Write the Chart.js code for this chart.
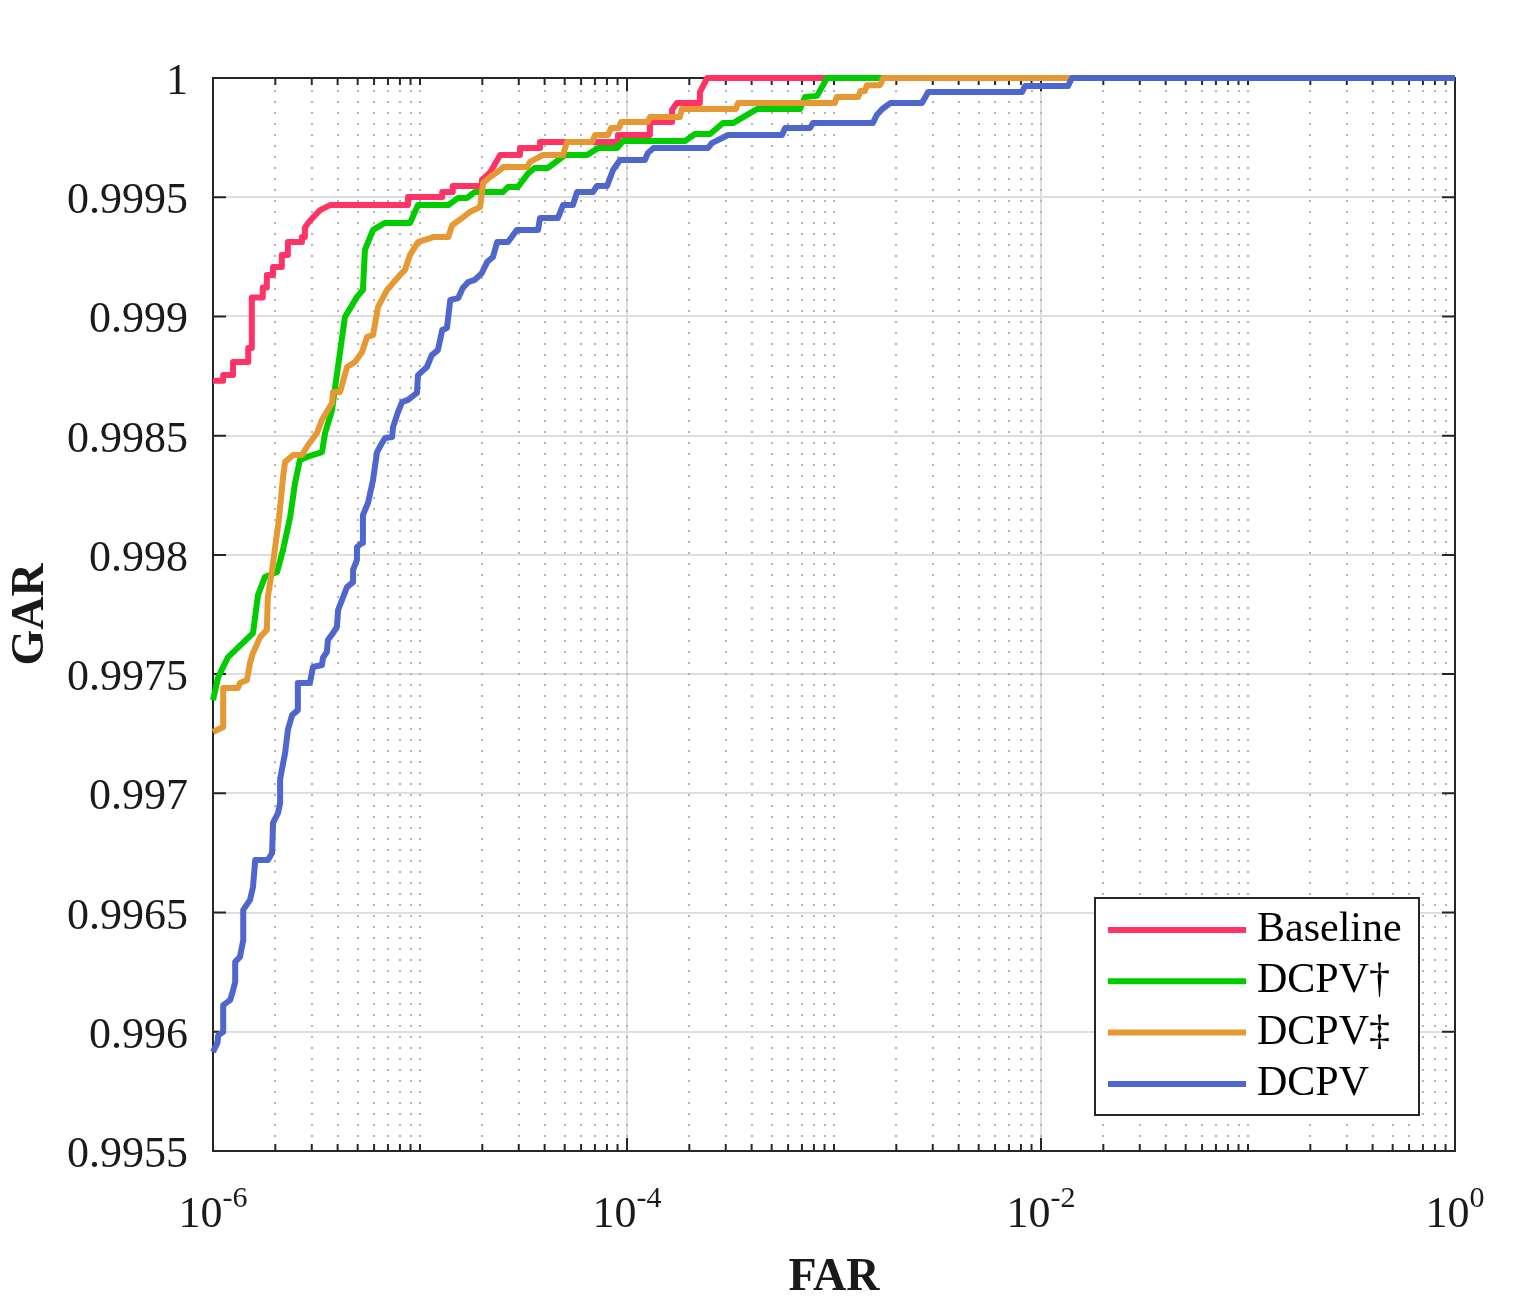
<!DOCTYPE html>
<html>
<head>
<meta charset="utf-8">
<script src="https://cdn.jsdelivr.net/npm/chart.js@4.4.1/dist/chart.umd.min.js"></script>
<style>
  html, body { margin: 0; padding: 0; background: #fff; }
  #wrap { width: 1515px; height: 1308px; }
</style>
</head>
<body>
<div id="wrap"><canvas id="roc" width="1515" height="1308"></canvas></div>
<script>
// ROC curves (FAR on log axis, GAR linear)
const baseFar = [1e-6, 1.12e-6, 1.12e-6, 1.25e-6, 1.25e-6, 1.48e-6, 1.48e-6, 1.54e-6, 1.54e-6, 1.74e-6, 1.74e-6, 1.82e-6, 1.82e-6, 1.95e-6, 1.95e-6, 2.15e-6, 2.15e-6, 2.30e-6, 2.30e-6, 2.69e-6, 2.69e-6, 2.78e-6, 2.78e-6, 2.88e-6, 3.04e-6, 3.29e-6, 3.68e-6, 8.75e-6, 8.75e-6, 1.28e-5, 1.28e-5, 1.44e-5, 1.44e-5, 1.99e-5, 1.99e-5, 2.18e-5, 2.44e-5, 3.04e-5, 3.04e-5, 3.80e-5, 3.80e-5, 9.05e-5, 9.05e-5, 1.29e-4, 1.29e-4, 1.65e-4, 1.65e-4, 1.74e-4, 2.25e-4, 2.25e-4, 2.44e-4, 1];
const baseGar = [0.99873, 0.99873, 0.998754, 0.998754, 0.998809, 0.998809, 0.998868, 0.998868, 0.999079, 0.999079, 0.999121, 0.999121, 0.999174, 0.999174, 0.999207, 0.999207, 0.999258, 0.999258, 0.999312, 0.999312, 0.999333, 0.999333, 0.999371, 0.999392, 0.999415, 0.999446, 0.999467, 0.999467, 0.999501, 0.999501, 0.999522, 0.999522, 0.999547, 0.999547, 0.999572, 0.999604, 0.999677, 0.999677, 0.999706, 0.999706, 0.999732, 0.999732, 0.999761, 0.999761, 0.999815, 0.999815, 0.999866, 0.999895, 0.999895, 0.999941, 1, 1];

const dagFar = [1e-6, 1.06e-6, 1.18e-6, 1.56e-6, 1.65e-6, 1.78e-6, 2.04e-6, 2.18e-6, 2.36e-6, 2.49e-6, 2.63e-6, 2.85e-6, 3.36e-6, 3.48e-6, 3.76e-6, 3.89e-6, 4.34e-6, 4.96e-6, 5.30e-6, 5.42e-6, 5.93e-6, 6.78e-6, 8.95e-6, 9.78e-6, 1.37e-5, 1.53e-5, 1.69e-5, 1.84e-5, 2.52e-5, 2.66e-5, 2.97e-5, 3.33e-5, 3.59e-5, 4.15e-5, 5.02e-5, 6.41e-5, 7.24e-5, 8.95e-5, 9.57e-5, 1.91e-4, 2.13e-4, 2.52e-4, 2.91e-4, 3.25e-4, 3.93e-4, 4.25e-4, 6.85e-4, 7.24e-4, 8.28e-4, 9.25e-4, 1];
const dagGar = [0.997391, 0.997488, 0.99757, 0.997672, 0.997832, 0.997907, 0.997928, 0.998021, 0.998159, 0.998301, 0.998398, 0.998411, 0.998431, 0.998511, 0.998608, 0.998704, 0.998998, 0.999082, 0.999111, 0.999279, 0.999363, 0.999392, 0.999392, 0.999467, 0.999467, 0.999497, 0.999497, 0.999522, 0.999522, 0.999543, 0.999543, 0.9996, 0.999623, 0.999623, 0.999677, 0.999677, 0.999706, 0.999706, 0.999736, 0.999736, 0.999765, 0.999765, 0.999811, 0.999811, 0.999853, 0.99987, 0.99987, 0.99992, 0.999925, 1, 1];

const ddagFar = [1e-6, 1.12e-6, 1.12e-6, 1.32e-6, 1.35e-6, 1.46e-6, 1.51e-6, 1.56e-6, 1.60e-6, 1.69e-6, 1.82e-6, 1.84e-6, 1.93e-6, 2.04e-6, 2.08e-6, 2.18e-6, 2.23e-6, 2.44e-6, 2.69e-6, 2.88e-6, 3.18e-6, 3.36e-6, 3.76e-6, 3.80e-6, 4.11e-6, 4.44e-6, 4.85e-6, 5.25e-6, 5.55e-6, 5.93e-6, 6.27e-6, 6.93e-6, 7.41e-6, 8.01e-6, 8.46e-6, 8.95e-6, 9.78e-6, 1.16e-5, 1.37e-5, 1.43e-5, 1.60e-5, 1.74e-5, 1.95e-5, 2.02e-5, 2.18e-5, 2.44e-5, 2.52e-5, 3.29e-5, 3.40e-5, 3.93e-5, 4.91e-5, 5.13e-5, 6.78e-5, 7.01e-5, 8.10e-5, 8.37e-5, 9.15e-5, 9.36e-5, 1.26e-4, 1.29e-4, 1.80e-4, 1.84e-4, 3.36e-4, 3.44e-4, 1.01e-3, 1.03e-3, 1.31e-3, 1.34e-3, 1.41e-3, 1.44e-3, 1.67e-3, 1.73e-3, 1];
const ddagGar = [0.997257, 0.997278, 0.997442, 0.997442, 0.997463, 0.997475, 0.997547, 0.997589, 0.997609, 0.997656, 0.997685, 0.997823, 0.997937, 0.998092, 0.998146, 0.998327, 0.99839, 0.998419, 0.998419, 0.998461, 0.998511, 0.998566, 0.998637, 0.998683, 0.998683, 0.998788, 0.998809, 0.998851, 0.998914, 0.998922, 0.99904, 0.999111, 0.99914, 0.999174, 0.999195, 0.999258, 0.999312, 0.999333, 0.999333, 0.999383, 0.999413, 0.999438, 0.999459, 0.99956, 0.999585, 0.999614, 0.999627, 0.999627, 0.999648, 0.999677, 0.999677, 0.999732, 0.999732, 0.999761, 0.999761, 0.99979, 0.99979, 0.999815, 0.999815, 0.999836, 0.999836, 0.99987, 0.99987, 0.999895, 0.999895, 0.99992, 0.99992, 0.999945, 0.999945, 0.99997, 0.99997, 1, 1];

const dcpvFar = [1e-6, 1.05e-6, 1.06e-6, 1.12e-6, 1.12e-6, 1.21e-6, 1.24e-6, 1.28e-6, 1.28e-6, 1.35e-6, 1.40e-6, 1.40e-6, 1.51e-6, 1.56e-6, 1.60e-6, 1.84e-6, 1.93e-6, 1.95e-6, 2.06e-6, 2.11e-6, 2.11e-6, 2.23e-6, 2.30e-6, 2.41e-6, 2.57e-6, 2.57e-6, 2.94e-6, 3.04e-6, 3.36e-6, 3.40e-6, 3.55e-6, 3.59e-6, 3.80e-6, 3.97e-6, 4.02e-6, 4.44e-6, 4.75e-6, 4.75e-6, 4.96e-6, 4.96e-6, 5.25e-6, 5.30e-6, 5.61e-6, 5.93e-6, 6.20e-6, 6.55e-6, 6.78e-6, 7.33e-6, 7.41e-6, 7.83e-6, 8.19e-6, 8.75e-6, 9.67e-6, 9.78e-6, 1.08e-5, 1.14e-5, 1.22e-5, 1.28e-5, 1.35e-5, 1.40e-5, 1.53e-5, 1.61e-5, 1.71e-5, 1.84e-5, 1.99e-5, 2.11e-5, 2.25e-5, 2.36e-5, 2.66e-5, 2.94e-5, 3.72e-5, 3.80e-5, 4.64e-5, 4.91e-5, 5.48e-5, 5.74e-5, 6.85e-5, 7.16e-5, 8.01e-5, 8.56e-5, 9.25e-5, 1.22e-4, 1.26e-4, 1.34e-4, 2.46e-4, 2.57e-4, 3.08e-4, 5.61e-4, 5.80e-4, 7.66e-4, 7.92e-4, 1.54e-3, 1.61e-3, 1.71e-3, 1.87e-3, 2.66e-3, 2.85e-3, 8.10e-3, 8.37e-3, 1.35e-2, 1.41e-2, 1];
const dcpvGar = [0.995915, 0.995953, 0.995986, 0.995999, 0.996112, 0.996133, 0.996163, 0.996209, 0.996293, 0.996314, 0.996385, 0.996511, 0.996553, 0.996607, 0.99672, 0.99672, 0.99675, 0.996876, 0.996917, 0.996959, 0.99706, 0.997169, 0.997266, 0.997328, 0.997349, 0.997463, 0.997463, 0.99753, 0.997538, 0.99757, 0.997593, 0.997643, 0.997672, 0.997698, 0.997769, 0.997865, 0.997886, 0.997937, 0.997979, 0.998033, 0.99805, 0.998167, 0.998218, 0.998314, 0.998431, 0.998469, 0.99849, 0.998494, 0.998536, 0.998599, 0.998641, 0.99865, 0.998679, 0.998754, 0.998788, 0.998838, 0.998859, 0.998943, 0.998952, 0.999069, 0.999077, 0.999119, 0.999144, 0.999153, 0.999182, 0.999228, 0.999249, 0.999312, 0.999312, 0.999363, 0.999363, 0.999413, 0.999413, 0.999467, 0.999467, 0.999522, 0.999522, 0.999547, 0.999547, 0.999614, 0.999656, 0.999656, 0.999685, 0.999706, 0.999706, 0.999727, 0.999761, 0.999761, 0.99979, 0.99979, 0.999811, 0.999811, 0.999845, 0.99987, 0.999895, 0.999895, 0.999941, 0.999941, 0.999966, 0.999966, 1, 1];

const seriesNames = ['Baseline', 'DCPV\u2020', 'DCPV\u2021', 'DCPV'];
const seriesColors = ['#ff3366', '#00cc00', '#e69933', '#4f66cc'];

const yTicks = [0.9955, 0.996, 0.9965, 0.997, 0.9975, 0.998, 0.9985, 0.999, 0.9995, 1];
const yTickLabels = ['0.9955', '0.996', '0.9965', '0.997', '0.9975', '0.998', '0.9985', '0.999', '0.9995', '1'];
const xTicks = [1e-6, 1e-4, 1e-2, 1];
const xTickExps = ['-6', '-4', '-2', '0'];

const SERIF = '"Liberation Serif", "DejaVu Serif", serif';
const AXIS = '#262626';

function pts(far, gar) {
    return far.map(function (f, i) { return { x: f, y: gar[i] }; });
}

// MATLAB-like frame: dotted minor grid, box, inner ticks, labels, legend
const matlabFrame = {
    id: 'matlabFrame',
    beforeDatasetsDraw(chart) {
        const { ctx, chartArea: a, scales: { x, y } } = chart;
        ctx.save();
        // minor dotted grid on x
        ctx.strokeStyle = '#b4b4b4';
        ctx.lineWidth = 2;
        ctx.setLineDash([2, 9]);
        for (let e = -6; e < 0; e++) {
            for (let k = 1; k <= 9; k++) {
                if (e === -6 && k === 1) continue;
                const px = Math.round(x.getPixelForValue(k * Math.pow(10, e)));
                ctx.beginPath();
                ctx.moveTo(px, a.top + 12);
                ctx.lineTo(px, a.bottom - 8);
                ctx.stroke();
            }
        }
        ctx.setLineDash([]);
        // ticks
        ctx.strokeStyle = AXIS;
        ctx.lineWidth = 2;
        for (let e = -6; e <= 0; e++) {
            for (let k = 1; k <= 9; k++) {
                const v = k * Math.pow(10, e);
                if (v > 1.0001) break;
                const px = x.getPixelForValue(v);
                const major = xTicks.some(function (t) { return Math.abs(t - v) / t < 1e-6; });
                const len = major ? 13 : 7;
                ctx.beginPath();
                ctx.moveTo(px, a.bottom); ctx.lineTo(px, a.bottom - len);
                ctx.moveTo(px, a.top); ctx.lineTo(px, a.top + len);
                ctx.stroke();
            }
        }
        yTicks.forEach(function (v) {
            const py = y.getPixelForValue(v);
            ctx.beginPath();
            ctx.moveTo(a.left, py); ctx.lineTo(a.left + 13, py);
            ctx.moveTo(a.right, py); ctx.lineTo(a.right - 13, py);
            ctx.stroke();
        });
        // box
        ctx.strokeRect(a.left, a.top, a.right - a.left, a.bottom - a.top);
        ctx.restore();
    },
    afterDraw(chart) {
        const { ctx, chartArea: a, scales: { x, y } } = chart;
        ctx.save();
        ctx.fillStyle = '#1a1a1a';
        // y tick labels
        ctx.font = '44px ' + SERIF;
        ctx.textAlign = 'right';
        ctx.textBaseline = 'alphabetic';
        yTicks.forEach(function (v, i) {
            ctx.fillText(yTickLabels[i], a.left - 25, y.getPixelForValue(v) + 16);
        });
        // x tick labels 10^n
        ctx.textAlign = 'left';
        xTicks.forEach(function (v, i) {
            const px = x.getPixelForValue(v);
            ctx.font = '44px ' + SERIF;
            const wb = ctx.measureText('10').width;
            ctx.font = '30px ' + SERIF;
            const we = ctx.measureText(xTickExps[i]).width;
            const sx = px - (wb + we) / 2;
            ctx.font = '44px ' + SERIF;
            ctx.fillText('10', sx, 1227);
            ctx.font = '30px ' + SERIF;
            ctx.fillText(xTickExps[i], sx + wb, 1207);
        });
        // axis titles
        ctx.font = 'bold 46px ' + SERIF;
        ctx.textAlign = 'center';
        ctx.fillText('FAR', (a.left + a.right) / 2, 1290);
        ctx.save();
        ctx.translate(43, (a.top + a.bottom) / 2);
        ctx.rotate(-Math.PI / 2);
        ctx.fillText('GAR', 0, 0);
        ctx.restore();
        // legend
        const lx = 1095, ly = 898, lw = 324, lh = 217;
        ctx.fillStyle = '#fff';
        ctx.fillRect(lx, ly, lw, lh);
        ctx.strokeStyle = AXIS;
        ctx.lineWidth = 2;
        ctx.strokeRect(lx, ly, lw, lh);
        ctx.font = '42px ' + SERIF;
        ctx.textAlign = 'left';
        chart.data.datasets.forEach(function (ds, i) {
            const yy = 930 + i * 51.3;
            ctx.strokeStyle = ds.borderColor;
            ctx.lineWidth = 6;
            ctx.beginPath();
            ctx.moveTo(1108, yy);
            ctx.lineTo(1246, yy);
            ctx.stroke();
            ctx.fillStyle = '#000';
            ctx.fillText(ds.label, 1257, yy + 11);
        });
        ctx.restore();
    }
};

const curves = [pts(baseFar, baseGar), pts(dagFar, dagGar), pts(ddagFar, ddagGar), pts(dcpvFar, dcpvGar)];

new Chart(document.getElementById('roc'), {
    type: 'line',
    data: {
        datasets: curves.map(function (c, i) {
            return {
                label: seriesNames[i],
                data: c,
                borderColor: seriesColors[i],
                backgroundColor: seriesColors[i],
                borderWidth: 6,
                pointRadius: 0,
                tension: 0,
                fill: false,
                borderJoinStyle: 'round',
                borderCapStyle: 'butt',
                order: 4 - i,
                clip: 6
            };
        })
    },
    options: {
        responsive: false,
        animation: false,
        devicePixelRatio: 1,
        layout: { padding: { left: 213, right: 60, top: 78, bottom: 157 } },
        plugins: { legend: { display: false }, tooltip: { enabled: false } },
        scales: {
            x: {
                type: 'logarithmic',
                min: 1e-6,
                max: 1,
                afterBuildTicks: function (s) { s.ticks = xTicks.map(function (v) { return { value: v }; }); },
                ticks: { display: false },
                border: { display: false },
                grid: { drawTicks: false, color: '#dedede', lineWidth: 2 }
            },
            y: {
                type: 'linear',
                min: 0.9955,
                max: 1,
                afterBuildTicks: function (s) { s.ticks = yTicks.map(function (v) { return { value: v }; }); },
                ticks: { display: false },
                border: { display: false },
                grid: { drawTicks: false, color: '#dedede', lineWidth: 2 }
            }
        }
    },
    plugins: [matlabFrame]
});
</script>
</body>
</html>
